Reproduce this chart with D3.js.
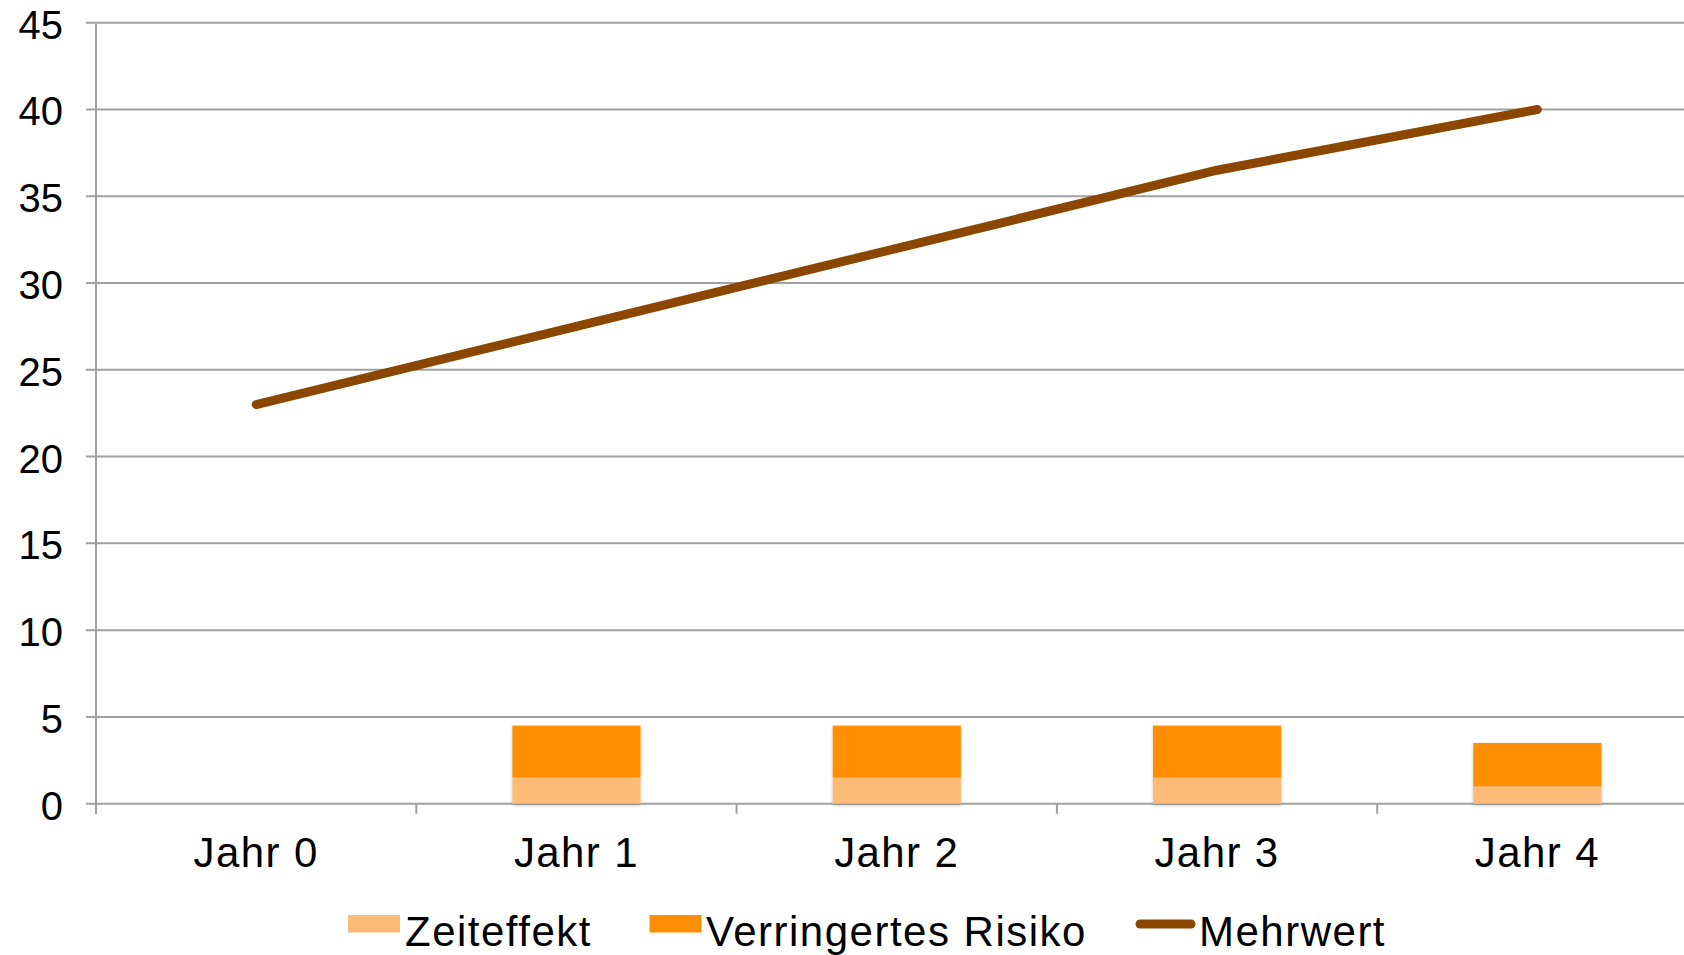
<!DOCTYPE html>
<html>
<head>
<meta charset="utf-8">
<script src="https://cdn.jsdelivr.net/npm/d3@7"></script>
<style>
  html, body { margin: 0; padding: 0; background: #fff; }
  svg { display: block; font-family: "Liberation Sans", Arial, sans-serif; }
</style>
</head>
<body>
<svg id="chart" width="1684" height="955"></svg>
<script>
// ---- data ----
const categories = ["Jahr 0", "Jahr 1", "Jahr 2", "Jahr 3", "Jahr 4"];
const zeiteffekt = [0, 1.5, 1.5, 1.5, 1.0];
const verringertesRisiko = [0, 3.0, 3.0, 3.0, 2.5];
const mehrwert = [23, 27.5, 32, 36.5, 40];
const yTicks = [0, 5, 10, 15, 20, 25, 30, 35, 40, 45];
const seriesNames = ["Zeiteffekt", "Verringertes Risiko", "Mehrwert"];

(function () {
// ---- styles ----
const colLight = "#FDBB78";
const colOrange = "#FF8F00";
const colBrown = "#8B4700";
const gridCol = "#A0A0A0";

const W = 1684;
const plotLeft = 96, plotBottom = 803.7, plotTop = 22.7;
const bandW = 320.3;
const svg = d3.select("#chart");

const x = d3.scaleBand().domain(categories).range([plotLeft, plotLeft + bandW * categories.length]).padding(0);
const y = d3.scaleLinear().domain([0, 45]).range([plotBottom, plotTop]);

// drop shadow for bars
const defs = svg.append("defs");
const f = defs.append("filter").attr("id", "shadow").attr("x", "-10%").attr("y", "-10%").attr("width", "120%").attr("height", "120%");
f.append("feDropShadow").attr("dx", 0).attr("dy", 1.5).attr("stdDeviation", 1.5).attr("flood-color", "#000").attr("flood-opacity", 0.25);

// gridlines
svg.append("g").selectAll("line").data(yTicks).join("line")
  .attr("x1", plotLeft - 10).attr("x2", W)
  .attr("y1", d => y(d)).attr("y2", d => y(d))
  .attr("stroke", gridCol).attr("stroke-width", 2);

// y axis line
svg.append("line").attr("x1", plotLeft).attr("x2", plotLeft).attr("y1", y(45)).attr("y2", plotBottom + 10)
  .attr("stroke", gridCol).attr("stroke-width", 2);

// x ticks at category boundaries
const bounds = categories.map(c => x(c)).concat([x(categories[categories.length - 1]) + x.bandwidth()]);
svg.append("g").selectAll("line").data(bounds).join("line")
  .attr("x1", d => d).attr("x2", d => d)
  .attr("y1", plotBottom).attr("y2", plotBottom + 10)
  .attr("stroke", gridCol).attr("stroke-width", 2);

// y labels
svg.append("g").selectAll("text").data(yTicks).join("text")
  .attr("x", 63).attr("y", d => y(d) + 16)
  .attr("text-anchor", "end")
  .attr("font-size", 40).attr("fill", "#000")
  .text(d => d);

// x labels
svg.append("g").selectAll("text").data(categories).join("text")
  .attr("x", d => x(d) + x.bandwidth() / 2).attr("y", 866.7)
  .attr("text-anchor", "middle")
  .attr("font-size", 42).attr("letter-spacing", "1.4px").attr("fill", "#000")
  .text(d => d);

// stacked bars
const barW = x.bandwidth() * 0.4;
const stackData = categories.map((c, i) => ({ cat: c, z: zeiteffekt[i], r: verringertesRisiko[i] }));
const stack = d3.stack().keys(["z", "r"])(stackData);
const colors = { z: colLight, r: colOrange };
const gBars = svg.append("g").attr("filter", "url(#shadow)");
gBars.selectAll("g").data(stack).join("g")
  .attr("fill", d => colors[d.key])
  .selectAll("rect").data(d => d.filter(p => p[1] - p[0] > 0)).join("rect")
  .attr("x", d => x(d.data.cat) + (x.bandwidth() - barW) / 2)
  .attr("width", barW)
  .attr("y", d => y(d[1]))
  .attr("height", d => y(d[0]) - y(d[1]));

// line
const line = d3.line().x((d, i) => x(categories[i]) + x.bandwidth() / 2).y(d => y(d));
svg.append("path").datum(mehrwert)
  .attr("d", line)
  .attr("fill", "none").attr("stroke", colBrown).attr("stroke-width", 9)
  .attr("stroke-linecap", "round").attr("stroke-linejoin", "round");

// legend
const lg = svg.append("g");
const legY = 924;
const itemX = [348, 649.5, 1136];
lg.append("rect").attr("x", itemX[0]).attr("y", 915).attr("width", 52).attr("height", 17.5).attr("fill", colLight);
lg.append("rect").attr("x", itemX[1]).attr("y", 915).attr("width", 52).attr("height", 17.5).attr("fill", colOrange);
lg.append("line").attr("x1", itemX[2] + 4).attr("x2", itemX[2] + 55).attr("y1", legY).attr("y2", legY)
  .attr("stroke", colBrown).attr("stroke-width", 9).attr("stroke-linecap", "round");
const textX = [405, 706, 1199];
lg.selectAll("text").data(seriesNames).join("text")
  .attr("x", (d, i) => textX[i]).attr("y", 946)
  .attr("font-size", 42).attr("letter-spacing", "1.5px").attr("fill", "#000")
  .text(d => d);
})();
</script>
</body>
</html>
